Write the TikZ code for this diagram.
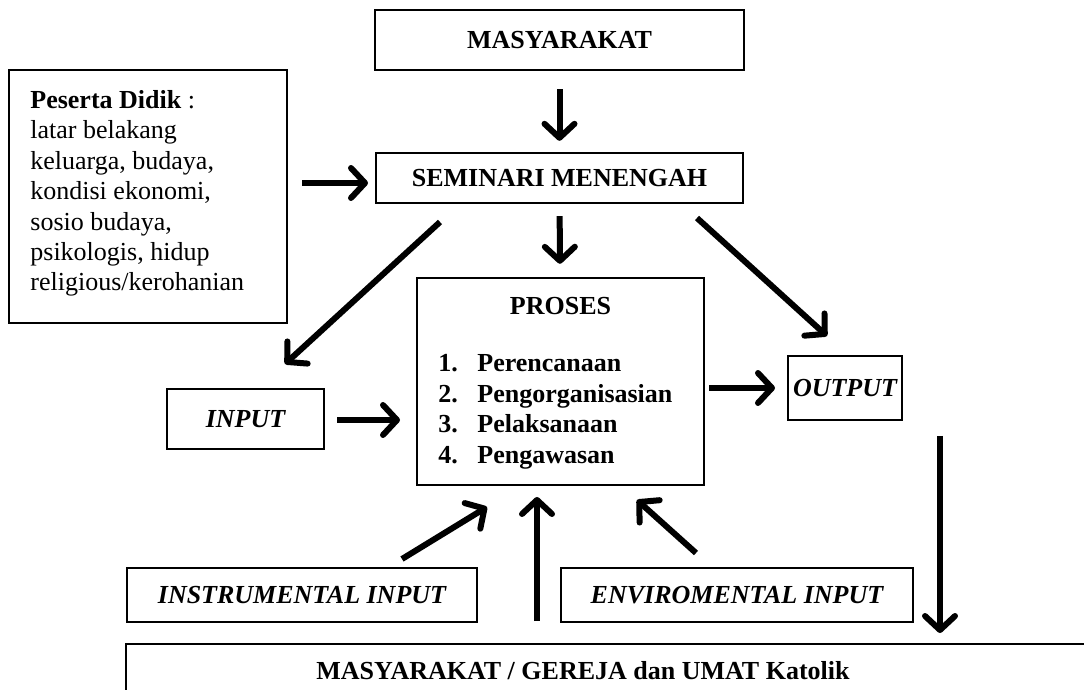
\documentclass[tikz,border=0pt]{standalone}
\usepackage{fontspec}
\setmainfont{Liberation Serif}
\usetikzlibrary{arrows.meta}
\newcommand\fsz{\fontsize{13}{15.2}\selectfont}
\begin{document}
\begin{tikzpicture}[x=0.5pt,y=-0.5pt,
  box/.style={draw, line width=1.2pt, inner sep=0pt, font=\fsz\bfseries, align=center},
  ibox/.style={box, font=\fsz\bfseries\itshape},
  arr/.style={line width=3pt, -{Straight Barb[length=7pt,width=15pt,round]}},
  txt/.style={inner sep=0pt, font=\fsz},
]
\useasboundingbox (0,0) rectangle (1084,690);
\clip (0,0) rectangle (1084,690);
\fill[white] (0,0) rectangle (1084,690);

% boxes
\node[box, minimum width=184.5pt, minimum height=30pt] (masy) at (559.5,40) {MASYARAKAT};
\node[box, minimum width=183.5pt, minimum height=25pt] (sem) at (559.5,178) {SEMINARI MENENGAH};
\node[box, minimum width=139pt, minimum height=126.5pt] (pes) at (148,196.5) {};
\node[txt, anchor=north west, align=left] (pestext) at (30,90)
  {\textbf{Peserta Didik} :\\latar belakang\\keluarga, budaya,\\kondisi ekonomi,\\sosio budaya,\\psikologis, hidup\\religious/kerohanian};
\node[box, minimum width=143.5pt, minimum height=103.5pt] (pro) at (560.5,381.5) {};
\node[txt, font=\fsz\bfseries, anchor=base] (protitle) at (560.5,315) {PROSES};
\node[txt, font=\fontsize{13}{15.3}\selectfont\bfseries, anchor=north west, align=left] (prolist) at (438,354)
  {\makebox[19.5pt][l]{1.}Perencanaan\\\makebox[19.5pt][l]{2.}Pengorganisasian\\\makebox[19.5pt][l]{3.}Pelaksanaan\\\makebox[19.5pt][l]{4.}Pengawasan};
\node[ibox, minimum width=78.5pt, minimum height=30pt] (inp) at (245.5,419) {INPUT};
\node[ibox, minimum width=57pt, minimum height=32pt] (out) at (845,388) {OUTPUT};
\node[ibox, minimum width=175pt, minimum height=27pt] (ins) at (302,595) {INSTRUMENTAL INPUT};
\node[ibox, minimum width=176pt, minimum height=27pt] (env) at (737,595) {ENVIROMENTAL INPUT};
\node[box, anchor=north west, minimum width=520pt, minimum height=60pt] (bot) at (125,643) {};
\node[txt, font=\fsz\bfseries, anchor=base] (bottext) at (583,679) {MASYARAKAT / GEREJA dan UMAT Katolik};

% arrow end points
\coordinate (a1) at (302,183); \coordinate (a2) at (368,183);
\coordinate (b1) at (440,222); \coordinate (b2) at (285,364);
\coordinate (c1) at (697,218); \coordinate (c2) at (827,336);
\coordinate (d1) at (337,420); \coordinate (d2) at (400,420);
\coordinate (e1) at (709,388); \coordinate (e2) at (775,388);
\coordinate (f1) at (940,436); \coordinate (f2) at (940,633);
\coordinate (g1) at (402,559); \coordinate (g2) at (487,507);
\coordinate (h1) at (537,621); \coordinate (h2) at (537,497);
\coordinate (i1) at (696,553); \coordinate (i2) at (637,500);

% arrows
\draw[arr, shorten <=9pt, shorten >=5.5pt] (masy) -- (sem);
\draw[arr, shorten <=6pt, shorten >=6.5pt] (sem) -- (pro);
\draw[arr] (a1) -- (a2);
\draw[arr] (b1) -- (b2);
\draw[arr] (c1) -- (c2);
\draw[arr] (d1) -- (d2);
\draw[arr] (e1) -- (e2);
\draw[arr] (f1) -- (f2);
\draw[arr] (g1) -- (g2);
\draw[arr] (h1) -- (h2);
\draw[arr] (i1) -- (i2);
\end{tikzpicture}
\end{document}
